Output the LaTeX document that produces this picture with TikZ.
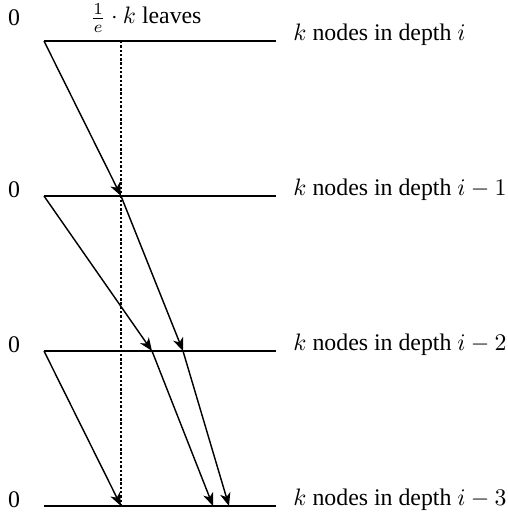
\documentclass[tikz,border=0pt]{standalone}
\usepackage{fontspec}
\setmainfont{Liberation Serif}
\usetikzlibrary{arrows.meta}
\tikzset{
  level/.style={line width=0.6pt},
  guide/.style={line width=0.55pt,dash pattern=on 1pt off 0.8pt},
  jump/.style={line width=0.6pt,-{Stealth[length=5.5pt,width=4.4pt,inset=1.6pt]}},
  lbl/.style={inner sep=0pt}
}
\begin{document}
\begin{tikzpicture}[x=0.42pt,y=-0.42pt]
\useasboundingbox (0,0) rectangle (508,517);

% the four depth levels
\coordinate (a0) at (44,41);  \coordinate (b0) at (276,41);
\coordinate (a1) at (44,196); \coordinate (b1) at (276,196);
\coordinate (a2) at (44,351); \coordinate (b2) at (276,351);
\coordinate (a3) at (44,506); \coordinate (b3) at (276,506);
\draw[level] (a0) -- (b0);
\draw[level] (a1) -- (b1);
\draw[level] (a2) -- (b2);
\draw[level] (a3) -- (b3);

% points where the arrows land
\coordinate (d0) at (121,41);
\coordinate (d1) at (121,196);
\coordinate (p2) at (152,351);
\coordinate (q2) at (183,351);
\coordinate (d3) at (121,506);
\coordinate (p3) at (213,506);
\coordinate (q3) at (229,506);

\draw[guide] (d0) -- (d3);

\node[lbl] (z0) at (14,18)  {0};
\node[lbl] (z1) at (14,190) {0};
\node[lbl] (z2) at (14,345) {0};
\node[lbl] (z3) at (14,500) {0};
\node[lbl] (leaves) at (146,18) {$\frac{1}{e}\cdot k$ leaves};

\node[lbl,anchor=west] (t0) at (293,35)  {$k$ nodes in depth $i$};
\node[lbl,anchor=west] (t1) at (293,190) {$k$ nodes in depth $i-1$};
\node[lbl,anchor=west] (t2) at (293,345) {$k$ nodes in depth $i-2$};
\node[lbl,anchor=west] (t3) at (293,500) {$k$ nodes in depth $i-3$};

\draw[jump] (a0) -- (d1);
\draw[jump] (a1) -- (p2);
\draw[jump] (d1) -- (q2);
\draw[jump] (a2) -- (d3);
\draw[jump] (p2) -- (p3);
\draw[jump] (q2) -- (q3);
\end{tikzpicture}
\end{document}
